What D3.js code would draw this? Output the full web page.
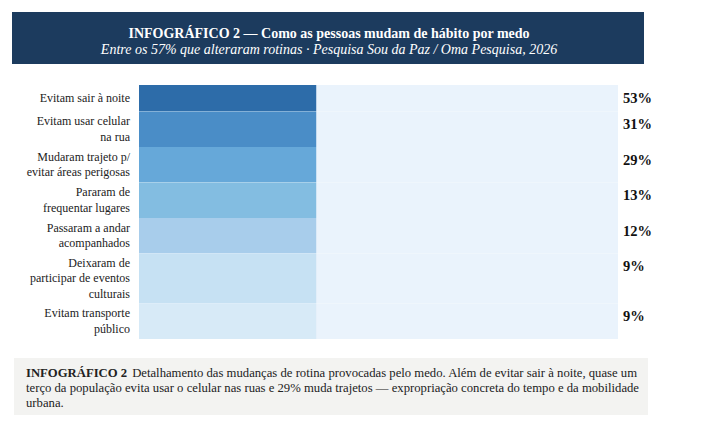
<!DOCTYPE html>
<html>
<head>
<meta charset="utf-8">
<script src="https://cdn.jsdelivr.net/npm/d3@7"></script>
<style>
  body { margin: 0; background: #fff; }
</style>
</head>
<body>
<svg id="chart" width="713" height="435"></svg>
<script>
// data
var categories = [
  ["Evitam sair à noite"],
  ["Evitam usar celular", "na rua"],
  ["Mudaram trajeto p/", "evitar áreas perigosas"],
  ["Pararam de", "frequentar lugares"],
  ["Passaram a andar", "acompanhados"],
  ["Deixaram de", "participar de eventos", "culturais"],
  ["Evitam transporte", "público"]
];
var values = [53, 31, 29, 13, 12, 9, 9];
var colors = ["#2d6ca9", "#4a8dc7", "#66a8d9", "#83bde1", "#a8cdeb", "#c6e1f3", "#d7eaf7"];
var title = "INFOGRÁFICO 2 — Como as pessoas mudam de hábito por medo";
var subtitle = "Entre os 57% que alteraram rotinas · Pesquisa Sou da Paz / Oma Pesquisa, 2026";
var captionLead = "INFOGRÁFICO 2";
var captionLines = [
  "Detalhamento das mudanças de rotina provocadas pelo medo. Além de evitar sair à noite, quase um",
  "terço da população evita usar o celular nas ruas e 29% muda trajetos — expropriação concreta do tempo e da mobilidade",
  "urbana."
];

var FONT = "'Liberation Serif', 'Times New Roman', Tinos, serif";
var svg = d3.select("#chart");

// header
svg.append("rect").attr("x", 12).attr("y", 12).attr("width", 632).attr("height", 52).attr("fill", "#1c3b5e");
svg.append("text").attr("x", 329).attr("y", 38).attr("text-anchor", "middle")
  .style("font-family", FONT)
  .attr("fill", "#fff").attr("font-weight", "bold").attr("font-size", 14).text(title);
svg.append("text").attr("x", 329).attr("y", 53.5).attr("text-anchor", "middle")
  .style("font-family", FONT)
  .attr("fill", "#fff").attr("font-style", "italic").attr("font-size", 14).text(subtitle);

// rows - heights depend on number of label lines
var lineH = 15.5;
var rowH = function(d) { return Math.max(26.5, d.length * 14.5 + 6.5); };
var tops = [];
var acc = 85;
categories.forEach(function(c) { tops.push(acc); acc += rowH(c); });

var x = d3.scaleLinear().domain([0, 100]).range([139, 618]);
var swatchEnd = x(37);

var rows = svg.append("g").selectAll("g")
  .data(categories)
  .enter().append("g")
    .attr("transform", function(d, i) { return "translate(0," + tops[i] + ")"; });

// track
rows.append("rect")
  .attr("x", x(0))
  .attr("width", x(100) - x(0))
  .attr("height", function(d) { return rowH(d); })
  .attr("fill", "#eaf3fc");

// colored band
rows.append("rect")
  .attr("x", x(0))
  .attr("width", swatchEnd - x(0))
  .attr("height", function(d) { return rowH(d); })
  .attr("fill", function(d, i) { return colors[i]; });

// labels
rows.append("text")
  .attr("text-anchor", "end")
  .attr("font-size", 12)
  .style("font-family", FONT)
  .attr("fill", "#222")
  .each(function(d) {
    var h = rowH(d);
    var y0 = h / 2 - d.length * lineH / 2 + 11.5;
    d3.select(this).selectAll("tspan").data(d).enter().append("tspan")
      .attr("x", 130)
      .attr("y", function(l, j) { return y0 + j * lineH; })
      .text(function(l) { return l; });
  });

// values
rows.append("text")
  .attr("x", x(100) + 5)
  .attr("y", 17.5)
  .attr("font-size", 14.5)
  .attr("font-weight", "bold")
  .style("font-family", FONT)
  .attr("fill", "#111")
  .text(function(d, i) { return values[i] + "%"; });

// caption
svg.append("rect").attr("x", 14).attr("y", 358).attr("width", 634).attr("height", 57).attr("fill", "#f3f3f1");
var cap = svg.append("text").attr("font-size", 12.7).style("font-family", FONT).attr("fill", "#222");
captionLines.forEach(function(l, i) {
  var t = cap.append("tspan").attr("x", 26).attr("y", 377 + i * 15);
  if (i === 0) {
    t.append("tspan").attr("font-weight", "bold").text(captionLead);
    t.append("tspan").attr("dx", 5).text(l);
  } else {
    t.text(l);
  }
});
</script>
</body>
</html>
